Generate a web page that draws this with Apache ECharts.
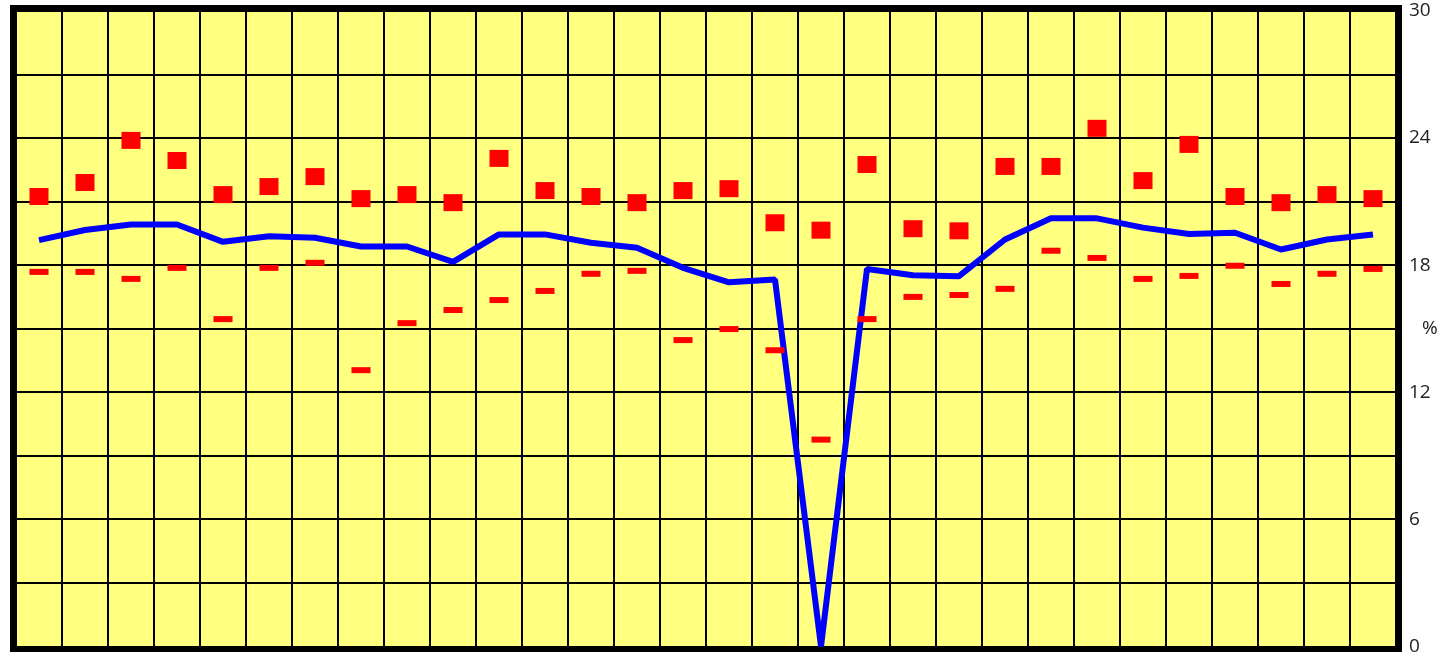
<!DOCTYPE html>
<html>
<head>
<meta charset="utf-8">
<script src="https://cdn.jsdelivr.net/npm/echarts@6/dist/echarts.min.js"></script>
<style>
html,body{margin:0;padding:0;background:#fff;}
#chart{width:1456px;height:652px;}
</style>
</head>
<body>
<div id="chart"></div>
<script>
var categories = ['1','2','3','4','5','6','7','8','9','10','11','12','13','14','15','16','17','18','19','20','21','22','23','24','25','26','27','28','29','30'];
var highValues = [21.24, 21.90, 23.89, 22.94, 21.33, 21.71, 22.18, 21.14, 21.33, 20.95, 23.04, 21.52, 21.24, 20.95, 21.52, 21.61, 20.00, 19.65, 22.75, 19.72, 19.62, 22.66, 22.66, 24.46, 21.99, 23.70, 21.24, 20.95, 21.33, 21.14];
var lowValues = [17.68, 17.68, 17.35, 17.87, 15.45, 17.87, 18.11, 13.04, 15.26, 15.88, 16.35, 16.78, 17.59, 17.73, 14.46, 14.98, 13.98, 9.76, 15.45, 16.50, 16.59, 16.88, 18.68, 18.34, 17.35, 17.49, 17.97, 17.11, 17.59, 17.82];
var avgValues = [19.18, 19.66, 19.92, 19.92, 19.10, 19.36, 19.29, 18.88, 18.88, 18.15, 19.45, 19.45, 19.06, 18.82, 17.87, 17.19, 17.32, 0, 17.82, 17.52, 17.48, 19.21, 20.21, 20.21, 19.77, 19.47, 19.53, 18.74, 19.21, 19.45];
var yTickLabels = [0, 6, 12, 18, 24, 30];
var yUnit = '%';

var chart = echarts.init(document.getElementById('chart'), null, {renderer: 'canvas'});
var option = {
  animation: false,
  backgroundColor: '#ffffff',
  grid: [
    {left: 16, right: 60, top: 11, bottom: 5.7, show: true, backgroundColor: '#FFFF80', borderWidth: 0, outerBoundsMode: 'none', containLabel: false},
    {left: 13, right: 57, top: 8, bottom: 3, show: true, backgroundColor: 'transparent', borderColor: '#000', borderWidth: 6, outerBoundsMode: 'none', containLabel: false, z: 1}
  ],
  xAxis: [
    {
      type: 'category', gridIndex: 0, data: categories, boundaryGap: true,
      axisLine: {show: false}, axisTick: {show: false}, axisLabel: {show: false},
      splitLine: {show: true, interval: 0, lineStyle: {color: '#000', width: 2}}
    },
    {type: 'value', gridIndex: 1, show: false, splitLine: {show: false}}
  ],
  yAxis: [
    {
      type: 'value', gridIndex: 0, position: 'right', min: 0, max: 30, interval: 3,
      axisLine: {show: false}, axisTick: {show: false},
      axisLabel: {
        show: true, margin: 13, color: '#222', fontSize: 19, fontFamily: 'Open Sans',
        formatter: function (v) { return yTickLabels.indexOf(v) >= 0 ? String(v) : ''; }
      },
      splitLine: {show: true, lineStyle: {color: '#000', width: 2}},
      name: yUnit, nameLocation: 'middle', nameRotate: 0, nameGap: 26, nameMoveOverlap: false,
      nameTextStyle: {color: '#222', fontSize: 19, fontFamily: 'Open Sans', align: 'left', verticalAlign: 'middle', padding: [6, 0, 0, 0]}
    },
    {type: 'value', gridIndex: 1, show: false, splitLine: {show: false}}
  ],
  series: [
    {
      type: 'line', xAxisIndex: 0, yAxisIndex: 0, data: avgValues,
      showSymbol: false, symbol: 'none', clip: false,
      lineStyle: {color: '#0000FF', width: 6}, z: 3
    },
    {
      type: 'scatter', xAxisIndex: 0, yAxisIndex: 0, data: highValues,
      symbol: 'rect', symbolSize: [19, 17],
      itemStyle: {color: '#FF0000', opacity: 1}, z: 4
    },
    {
      type: 'scatter', xAxisIndex: 0, yAxisIndex: 0, data: lowValues,
      symbol: 'rect', symbolSize: [19, 6],
      itemStyle: {color: '#FF0000', opacity: 1}, z: 4
    }
  ]
};
chart.setOption(option);
</script>
</body>
</html>
